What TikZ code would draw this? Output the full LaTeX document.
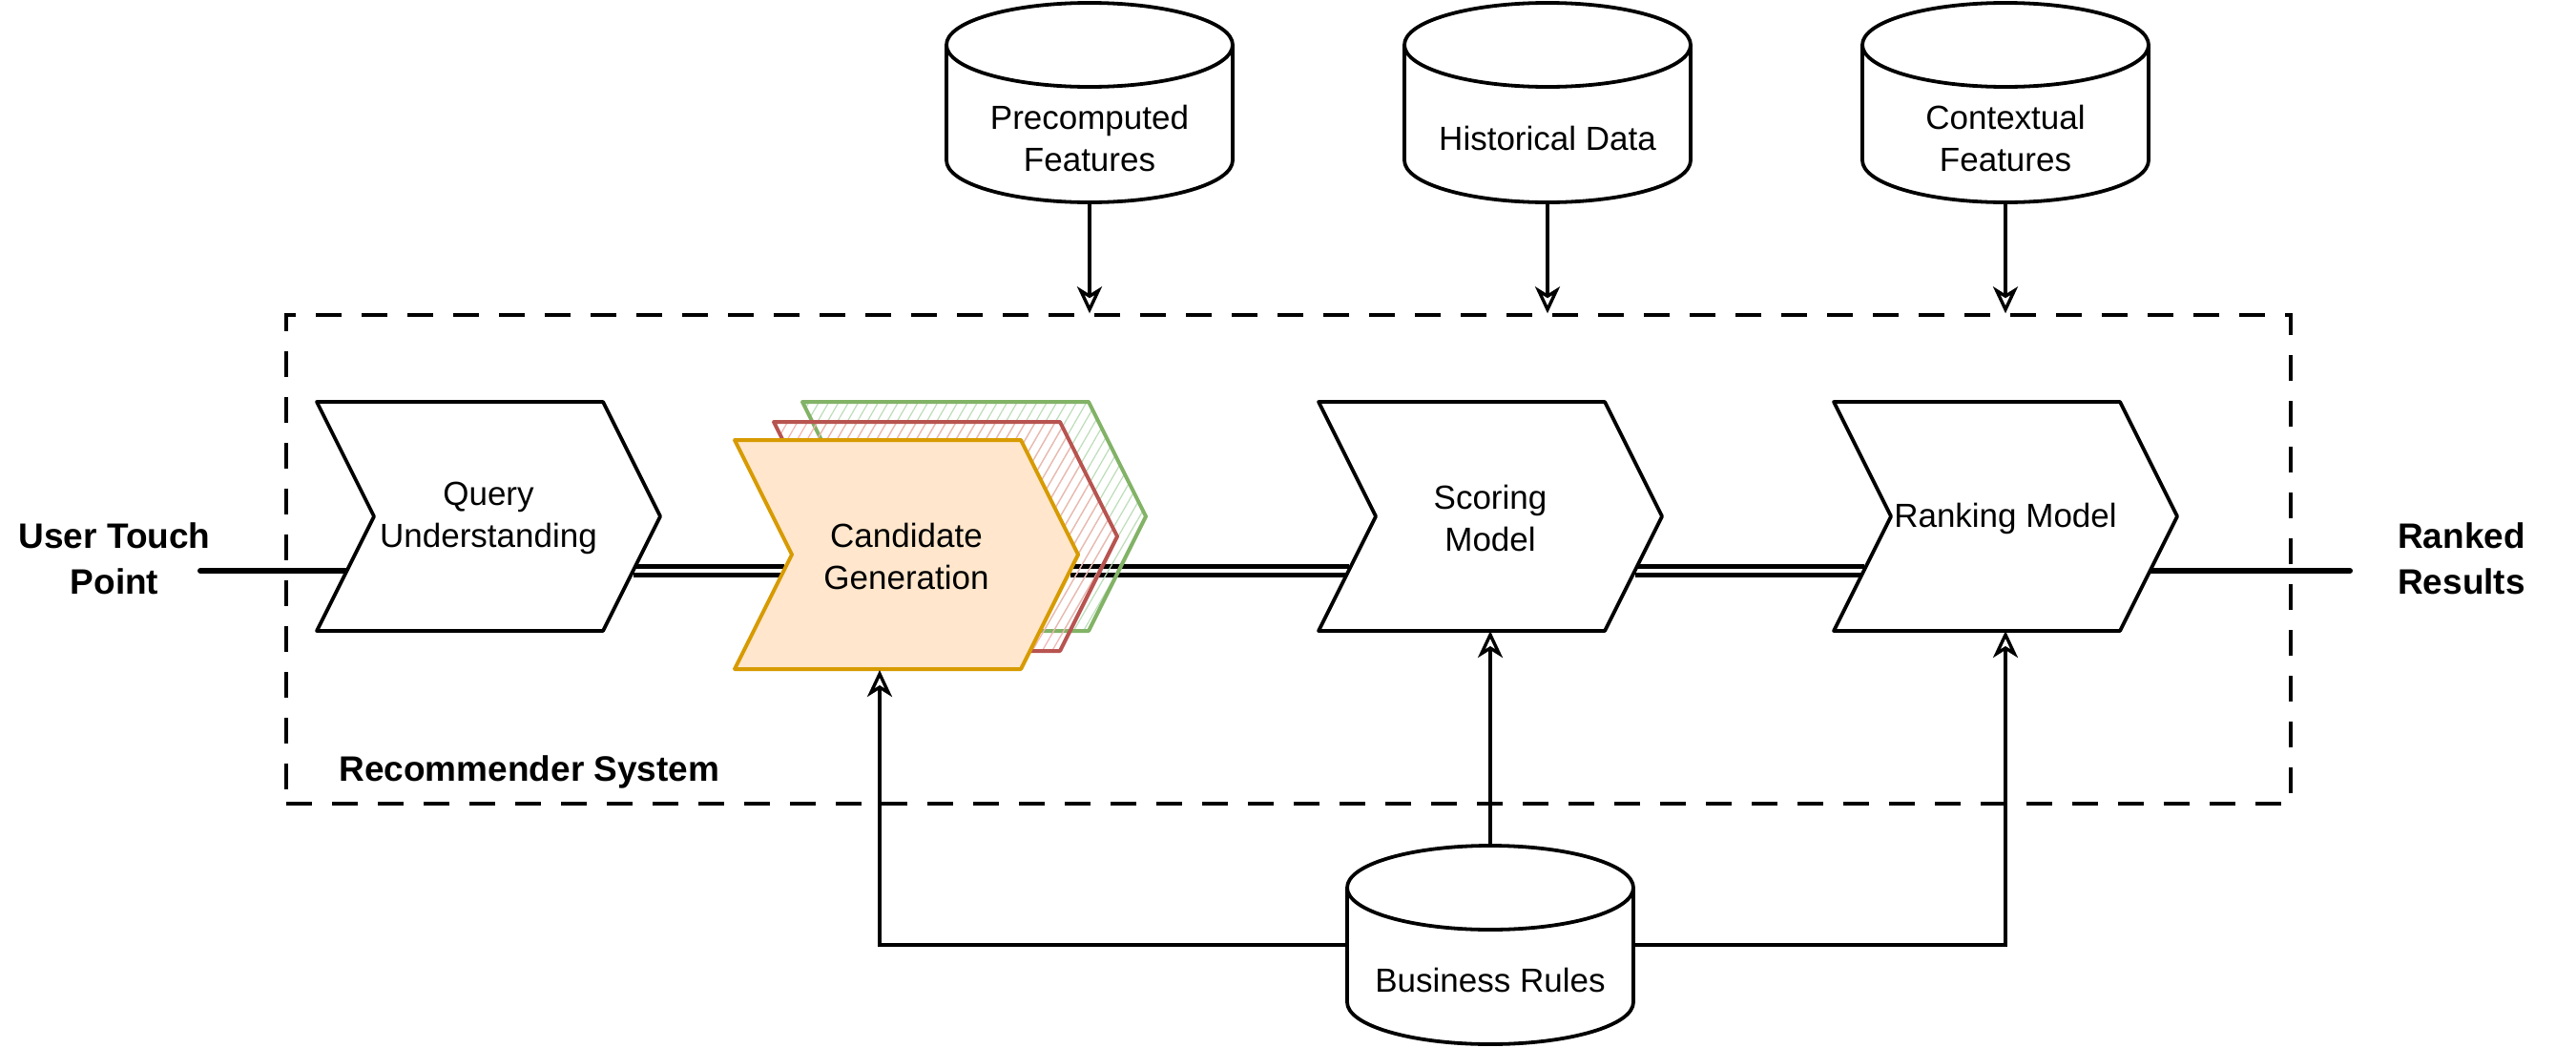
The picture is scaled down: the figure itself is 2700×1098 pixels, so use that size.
\documentclass[tikz,border=0pt]{standalone}
\usepackage{fontspec}
\setmainfont{Liberation Sans}
\usetikzlibrary{arrows.meta,backgrounds,patterns.meta,calc}
\definecolor{orfill}{HTML}{FFE6CC}
\definecolor{orline}{HTML}{D79B00}
\definecolor{rdline}{HTML}{B85450}
\definecolor{rdhatch}{HTML}{F2B5B2}
\definecolor{gnline}{HTML}{82B366}
\definecolor{gnhatch}{HTML}{BCDDB9}

% chevron outline: centre x, centre y, style
\newcommand\chevpath[3]{%
  \path[#3] ({#1-180},{#2-120}) -- ({#1+120},{#2-120}) -- ({#1+180},#2)
     -- ({#1+120},{#2+120}) -- ({#1-180},{#2+120}) -- ({#1-120},#2) -- cycle;}
% chevron with name, cx, cy, style, text
\newcommand\chevron[5]{%
  \chevpath{#2}{#3}{#4}
  \node[lbl] (#1) at (#2,{#3+2}) {#5};
  \coordinate (#1-in) at ({#2-120-60*(598-#3)/120},598);
  \coordinate (#1-out) at ({#2+180-60*(598-#3)/120},598);
  \coordinate (#1-bot) at (#2,{#3+120});}
% cylinder: name, cx, top, bottom, text y, text
\newcommand\dbcyl[6]{%
  \path[shp] ({#2-150},{#3+44}) -- ({#2-150},{#4-44})
     arc[start angle=180,end angle=0,x radius=150,y radius=44]
     -- ({#2+150},{#3+44})
     arc[start angle=0,end angle=-180,x radius=150,y radius=44] -- cycle;
  \draw[shp,fill=none] ({#2-150},{#3+44})
     arc[start angle=180,end angle=0,x radius=150,y radius=44];
  \node[lbl] (#1) at (#2,#5) {#6};
  \coordinate (#1-t) at (#2,#3);
  \coordinate (#1-b) at (#2,#4);}

\begin{document}
\begin{tikzpicture}[x=0.5pt,y=-0.5pt,
  lbl/.style={font=\fontsize{17.5}{22}\selectfont, align=center, inner sep=0pt},
  blbl/.style={font=\fontsize{18.5}{24}\selectfont\bfseries, align=center, inner sep=0pt},
  shp/.style={draw=black, line width=1.9pt, fill=white, line join=round},
  orshp/.style={draw=orline, line width=2pt, fill=orfill, line join=round},
  rdshp/.style={draw=rdline, line width=2pt, line join=round,
     pattern={Lines[angle=60,distance=4.5pt,line width=0.6pt]}, pattern color=rdhatch},
  gnshp/.style={draw=gnline, line width=2pt, line join=round,
     pattern={Lines[angle=60,distance=4.5pt,line width=0.6pt]}, pattern color=gnhatch},
  rsbox/.style={draw=black, line width=1.7pt, dash pattern=on 13.5pt off 10.5pt, inner sep=0pt},
  flowone/.style={draw=black, line width=3pt, line cap=round},
  flowtwo/.style={draw=black, double=white, double distance=2.2pt, line width=2.3pt},
  arr/.style={draw=black, line width=1.7pt, -{Stealth[open, length=14pt, width=13pt, inset=4pt]}}
]
\useasboundingbox (0,0) rectangle (2700,1098);

% recommender system frame
\node[rsbox, minimum width=1050.5pt, minimum height=256pt] (rs) at (1350.5,586) {};
\node[blbl, anchor=base west] (rslbl) at (355,818) {Recommender System};

% chevrons
\chevron{qu}{512}{541}{shp}{Query\\Understanding}
\chevpath{1021}{541}{gnshp}
\chevpath{991}{562}{rdshp}
\chevron{cg}{950}{581}{orshp}{Candidate\\Generation}
\chevron{sm}{1562}{541}{shp}{Scoring\\Model}
\chevron{rm}{2102}{541}{shp}{Ranking Model}

% data stores
\dbcyl{pf}{1142}{3}{212}{145}{Precomputed\\Features}
\dbcyl{hd}{1622}{3}{212}{145}{Historical Data}
\dbcyl{cf}{2102}{3}{212}{145}{Contextual\\Features}
\dbcyl{br}{1562}{886}{1094}{1027}{Business Rules}

% end labels
\node[blbl] (utp) at (120,585) {User Touch\\Point};
\node[blbl] (rr) at (2580,585) {Ranked\\Results};
\coordinate (utp-end) at (210,598);
\coordinate (rr-end) at (2463,598);
\coordinate (br-w) at (1412,990);
\coordinate (br-e) at (1712,990);
\coordinate (cg-arr) at (922,702);

% feature arrows into the frame
\draw[arr] (pf-b) -- (pf-b |- rs.north);
\draw[arr] (hd-b) -- (hd-b |- rs.north);
\draw[arr] (cf-b) -- (cf-b |- rs.north);

% business rules arrows
\draw[arr] (br-t) -- (sm-bot);
\draw[arr] (br-w) -| (cg-arr);
\draw[arr] (br-e) -| (rm-bot);

% main flow (behind shapes)
\begin{pgfonlayer}{background}
  \fill[white] (0,0) rectangle (2700,1098);
  \draw[flowone] (utp-end) -- (qu-in);
  \draw[flowtwo] (qu-out) -- (cg-in);
  \draw[flowtwo] (cg-out) -- (sm-in);
  \draw[flowtwo] (sm-out) -- (rm-in);
  \draw[flowone] (rm-out) -- (rr-end);
\end{pgfonlayer}
\end{tikzpicture}
\end{document}
